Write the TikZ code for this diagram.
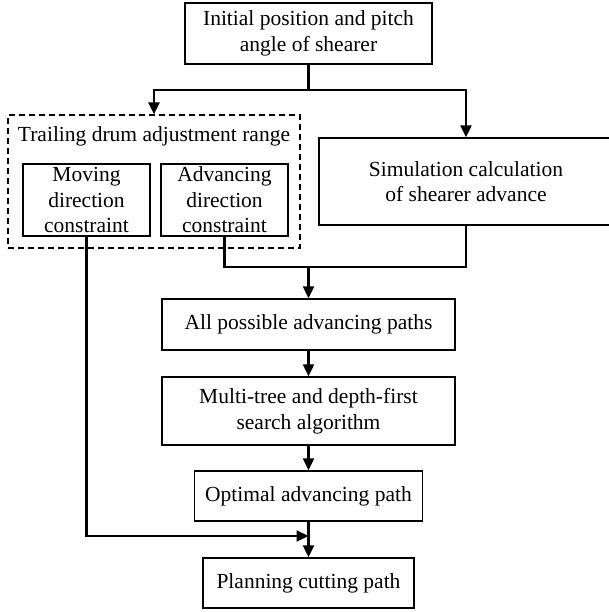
\documentclass[tikz,border=0pt]{standalone}
\usepackage{fontspec}
\setmainfont{Liberation Serif}
\usetikzlibrary{arrows.meta}
\begin{document}
\begin{tikzpicture}[x=1pt,y=-1pt,
  box/.style={draw,line width=1.4pt,inner sep=0pt,align=center,font=\fontsize{21.5}{25.5}\selectfont},
  grpbox/.style={draw,line width=1.2pt,dash pattern=on 6pt off 4pt,inner sep=0pt},
  conn/.style={line width=2.2pt},
  arr/.style={line width=2.2pt,-{Triangle[length=12pt,width=11pt]}}]
\useasboundingbox (0,0) rectangle (608,612);
\node[box,minimum width=247,minimum height=61] (top) at (308.5,33.5) {Initial position and pitch\\angle of shearer};
\node[grpbox,minimum width=292,minimum height=133] (grp) at (154,181.5) {};
\node[font=\fontsize{21.5}{26}\selectfont,inner sep=0pt,anchor=base] (grptitle) at (154,142) {Trailing drum adjustment range};
\node[box,minimum width=127,minimum height=72] (mov) at (86.5,200) {Moving\\direction\\constraint};
\node[box,minimum width=127,minimum height=72] (adv) at (224.5,200) {Advancing\\direction\\constraint};
\node[box,minimum width=294,minimum height=87] (sim) at (466,181.5) {Simulation calculation\\of shearer advance};
\node[box,minimum width=293,minimum height=51] (all) at (308.5,324.5) {All possible advancing paths};
\node[box,minimum width=293,minimum height=68] (multi) at (308.5,411) {Multi-tree and depth-first\\search algorithm};
\node[box,minimum width=228,minimum height=50] (opt) at (308.5,496) {Optimal advancing path};
\node[box,minimum width=211,minimum height=50] (plan) at (308.5,583) {Planning cutting path};
\coordinate (j1) at (308.5,90);
\coordinate (j2) at (308.5,267);
\coordinate (j4) at (308.5,536);
\draw[conn] (top.south) -- (j1);
\draw[arr] (j1) -| (grp.north);
\draw[arr] (j1) -| (sim.north);
\draw[conn] (adv.south) |- (j2) -| (sim.south);
\draw[arr] (j2) -- (all.north);
\draw[arr] (all.south) -- (multi.north);
\draw[arr] (multi.south) -- (opt.north);
\draw[arr] (opt.south) -- (plan.north);
\draw[arr] (mov.south) |- (j4);
\end{tikzpicture}
\end{document}
